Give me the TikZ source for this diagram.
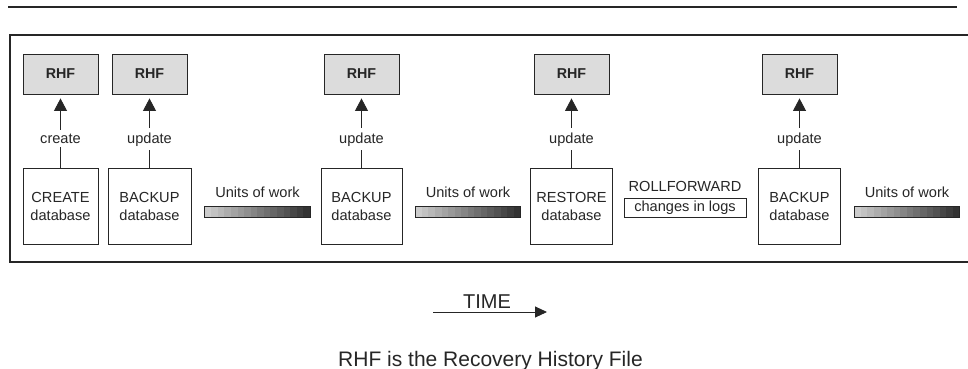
\documentclass[tikz,border=0pt]{standalone}
\usepackage{fontspec}
\setmainfont{Liberation Sans}
\usetikzlibrary{arrows.meta}
\definecolor{ink}{HTML}{262626}
\definecolor{rhfgray}{HTML}{DCDCDC}

\begin{document}
\begin{tikzpicture}[x=1pt,y=-1pt,
  every node/.style={text=ink},
  rhf/.style={draw=ink,fill=rhfgray,line width=0.9pt,minimum width=75pt,
    minimum height=40pt,inner sep=0pt,font=\fontsize{14.3}{17}\selectfont\bfseries},
  dbbox/.style={draw=ink,fill=white,line width=0.9pt,minimum height=76pt,
    inner sep=0pt,align=center,font=\fontsize{14.6}{18}\selectfont},
  lbl/.style={font=\fontsize{14.6}{17}\selectfont,inner sep=0pt,anchor=base},
  arrowlbl/.style={lbl,fill=white,inner xsep=1pt,inner ysep=4pt},
  feed/.style={draw=ink,line width=0.9pt,-{Triangle[width=13pt,length=12.5pt]},shorten >=4pt},
  workbar/.style={minimum width=105pt,minimum height=10.5pt,inner sep=0pt},
  big/.style={font=\fontsize{20}{24}\selectfont,anchor=base,inner sep=0pt}]
\useasboundingbox (0,0) rectangle (968,369);

% header rule and open frame
\draw[ink,line width=1.4pt] (8,7) -- (957,7);
\draw[ink,line width=1.1pt] (968,35) -- (10,35) -- (10,262) -- (968,262);

% recovery history file boxes
\node[rhf] (r1) at (60.5,74) {RHF};
\node[rhf] (r2) at (149.5,74) {RHF};
\node[rhf] (r3) at (361.5,74) {RHF};
\node[rhf] (r4) at (571.5,74) {RHF};
\node[rhf] (r5) at (799.5,74) {RHF};

% database operations
\node[dbbox,minimum width=75pt] (d1) at (60.5,206) {CREATE\\database};
\node[dbbox,minimum width=83pt] (d2) at (149.5,206) {BACKUP\\database};
\node[dbbox,minimum width=81pt] (d3) at (361.5,206) {BACKUP\\database};
\node[dbbox,minimum width=82pt] (d4) at (571.5,206) {RESTORE\\database};
\node[dbbox,minimum width=82pt] (d5) at (799.5,206) {BACKUP\\database};

% operation -> RHF
\foreach \a/\b in {d1/r1,d2/r2,d3/r3,d4/r4,d5/r5}
  \draw[feed] (\a.north) -- (\b.south);
\node[arrowlbl] (l1) at (60.5,143) {create};
\node[arrowlbl] (l2) at (149.5,143) {update};
\node[arrowlbl] (l3) at (361.5,143) {update};
\node[arrowlbl] (l4) at (571.5,143) {update};
\node[arrowlbl] (l5) at (799.5,143) {update};

% units of work bars
\foreach \n/\cx/\u in {w1/257.5/u1,w2/468/u2,w3/907/u3} {
  \node[workbar] (\n) at (\cx,212) {};
  \foreach \i in {0,...,15} {
    \pgfmathsetmacro\shadeval{20+4*\i}
    \fill[black!\shadeval] ([xshift=\i*6.5625pt]\n.north west) rectangle ++(6.5625,10.5);
  }
  \draw[ink,line width=0.7pt] (\n.north west) rectangle (\n.south east);
  \node[lbl] (\u) at (\cx,197.5) {Units of work};
}

% rollforward
\node[lbl] (rf) at (685,191) {ROLLFORWARD};
\node[draw=ink,line width=0.8pt,minimum width=122pt,minimum height=19pt,
  inner sep=0pt,font=\fontsize{14.6}{17}\selectfont] (logs) at (685,207.5) {changes in logs};

% time axis and note
\node[big] (time) at (487,308) {TIME};
\coordinate (t0) at (433,312);
\coordinate (t1) at (547,312);
\draw[ink,line width=0.9pt,-{Triangle[width=11pt,length=12pt]}] (t0) -- (t1);
\node[big,font=\fontsize{21}{25}\selectfont] (note) at (490.5,366) {RHF is the Recovery History File};
\end{tikzpicture}
\end{document}
